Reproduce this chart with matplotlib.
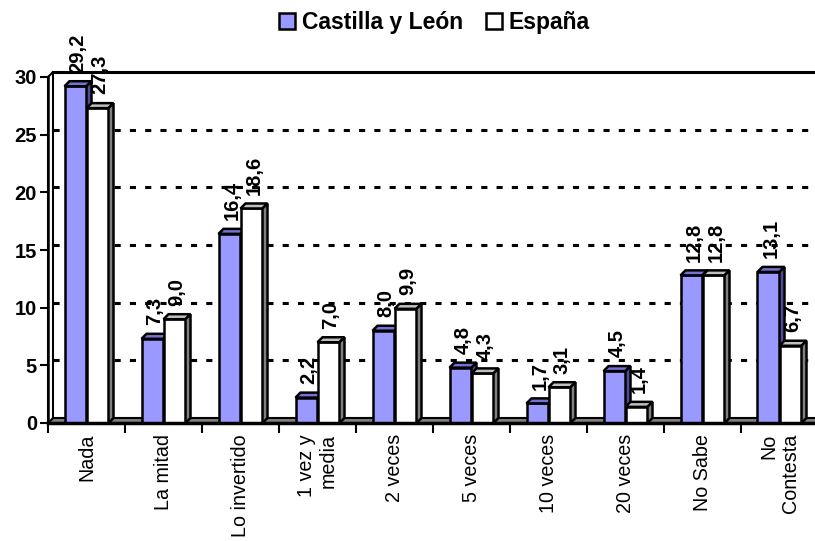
import numpy as np
import matplotlib.pyplot as plt
from matplotlib.patches import Polygon

plt.rcParams['font.family'] = ['Liberation Sans', 'DejaVu Sans']

# Data
categorias = ['Nada', 'La mitad', 'Lo invertido', '1 vez y\nmedia', '2 veces',
              '5 veces', '10 veces', '20 veces', 'No Sabe', 'No\nContesta']
castilla = [29.2, 7.3, 16.4, 2.2, 8.0, 4.8, 1.7, 4.5, 12.8, 13.1]
espana = [27.3, 9.0, 18.6, 7.0, 9.9, 4.3, 3.1, 1.4, 12.8, 6.7]
series = ['Castilla y León', 'España']
yticks = [0, 5, 10, 15, 20, 25, 30]

# Colours (front, top, side)
col_cyl = ('#9999ff', '#7373d6', '#4d4d99')
col_esp = ('#ffffff', '#c0c0c0', '#808080')

fig = plt.figure(figsize=(8.15, 5.41), dpi=100)
ax = fig.add_axes([48 / 815, (541 - 423) / 541, 770 / 815, 346 / 541])
ax.set_xlim(-0.5, 9.5)
ax.set_ylim(0, 30)

# depth of the pseudo 3D effect in data units (~5 px)
DX = 5 / 77
DY = 5 / (346 / 30)
n = len(categorias)
x = np.arange(n)
w = 22 / 77

# floor
ax.add_patch(Polygon([(-0.5, 0), (9.6, 0), (9.6 + DX, DY), (-0.5 + DX, DY)],
                     closed=True, facecolor='#808080', edgecolor='black', lw=1.5,
                     zorder=1, clip_on=False))

# left wall edge
ax.add_patch(Polygon([(-0.5, 0), (-0.5 + DX, DY), (-0.5 + DX, 30 + DY), (-0.5, 30)],
                     closed=True, facecolor='white', edgecolor='black', lw=1.5,
                     zorder=1, clip_on=False))

# back-wall gridlines
for v in yticks[1:-1]:
    ax.plot([-0.5 + DX, 9.6], [v + DY, v + DY], color='black', lw=2.2,
            linestyle=(0, (2, 3)), zorder=1, clip_on=False)
ax.plot([-0.5 + DX, 9.6], [30 + DY, 30 + DY], color='black', lw=2.2,
        zorder=1, clip_on=False)


def draw_bars(xs, vals, cols, label):
    bars = ax.bar(xs, vals, width=w, align='edge', facecolor=cols[0],
                  edgecolor='black', lw=1.8, zorder=3, label=label)
    for b in bars:
        x0, h = b.get_x(), b.get_height()
        z = b.get_zorder()
        ax.add_patch(Polygon([(x0, h), (x0 + DX, h + DY), (x0 + w + DX, h + DY), (x0 + w, h)],
                             closed=True, facecolor=cols[1], edgecolor='black', lw=1.8,
                             zorder=z, clip_on=False))
        ax.add_patch(Polygon([(x0 + w, 0), (x0 + w + DX, DY), (x0 + w + DX, h + DY), (x0 + w, h)],
                             closed=True, facecolor=cols[2], edgecolor='black', lw=1.8,
                             zorder=z, clip_on=False))
        ax.text(x0 + w / 2 + DX / 2, h + DY + 0.75, f'{h:.1f}'.replace('.', ','),
                rotation=90, ha='center', va='bottom', fontsize=14.5,
                fontweight='bold', zorder=6, clip_on=False)
    return bars


draw_bars(x - w, castilla, col_cyl, series[0])
draw_bars(x, espana, col_esp, series[1])

# axes styling
for s in ['top', 'right']:
    ax.spines[s].set_visible(False)
ax.spines['left'].set_linewidth(1.8)
ax.spines['bottom'].set_linewidth(2.5)
ax.spines['bottom'].set_zorder(5)

ax.set_yticks(yticks)
ax.set_yticklabels([str(v) for v in yticks], fontsize=14.5, fontweight='bold')
ax.tick_params(axis='y', length=6, width=1.5, pad=2)

ax.set_xticks(x)
ax.set_xticklabels(categorias, rotation=90, fontsize=14.2, ha='center', va='top',
                   multialignment='right')
ax.tick_params(axis='x', which='major', length=0, pad=8)
ax.set_xticks(np.arange(n) - 0.5, minor=True)
ax.tick_params(axis='x', which='minor', length=7, width=1.5)

# legend
fig.legend(loc='center', bbox_to_anchor=(0.533, 0.959), ncol=2, frameon=False,
           prop={'size': 16.5, 'weight': 'bold'}, handlelength=0.7,
           handleheight=0.7, handletextpad=0.3, columnspacing=1.0)

fig.savefig('out.png', dpi=100)
